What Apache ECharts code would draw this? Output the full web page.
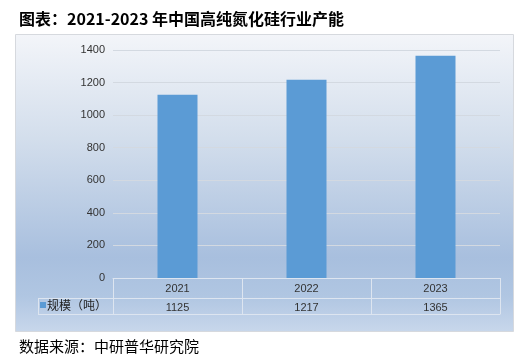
<!DOCTYPE html>
<html><head><meta charset="utf-8">
<script src="https://cdn.jsdelivr.net/npm/echarts@6/dist/echarts.min.js"></script>
<style>html,body{margin:0;padding:0;background:#fff}#c{width:527px;height:363px}</style>
</head><body><div id="c"></div>
<script>
const categories = ['2021', '2022', '2023'];
const capacity = [1125, 1217, 1365];
const yTicks = [0, 200, 400, 600, 800, 1000, 1200, 1400];
const seriesName = '规模（吨）';
const titleText = '图表：2021-2023 年中国高纯氮化硅行业产能';
const sourceText = '数据来源：中研普华研究院';

const chart = echarts.init(document.getElementById('c'), null, {renderer: 'canvas'});
const lineColor = '#dde5f0';
const labelFont = 'Liberation Sans, Arial, sans-serif';
const cjk = '"Noto Sans CJK SC", sans-serif';
chart.setOption({
  animation: false,
  backgroundColor: '#fff',
  title: [
    {text: titleText, left: 14, top: 6, textStyle: {fontSize: 16, fontWeight: 'bold', color: '#000', fontFamily: cjk}},
    {text: sourceText, left: 14, top: 334, textStyle: {fontSize: 15, fontWeight: 'normal', color: '#000', fontFamily: cjk}}
  ],
  graphic: [
    {type: 'rect', z: -100, shape: {x: 15.5, y: 34.5, width: 498, height: 297},
     style: {stroke: '#d6d9de', lineWidth: 1, fill: new echarts.graphic.LinearGradient(0, 0, 0, 1, [
       {offset: 0, color: '#f3f5f9'}, {offset: 0.35, color: '#d3deec'}, {offset: 0.75, color: '#a8bfde'},
       {offset: 0.88, color: '#b0c6e2'}, {offset: 1, color: '#c8d7eb'}])}},
    {type: 'line', z: 5, shape: {x1: 38, y1: 298.5, x2: 113, y2: 298.5}, style: {stroke: lineColor, lineWidth: 1}},
    {type: 'line', z: 5, shape: {x1: 38, y1: 314.5, x2: 113, y2: 314.5}, style: {stroke: lineColor, lineWidth: 1}},
    {type: 'line', z: 5, shape: {x1: 38.5, y1: 298, x2: 38.5, y2: 315}, style: {stroke: lineColor, lineWidth: 1}}
  ],
  legend: {
    data: [seriesName], left: 40, top: 299, padding: 0, itemWidth: 6, itemHeight: 6, icon: 'rect',
    textStyle: {fontSize: 12, color: '#222', fontFamily: cjk, padding: [0, 0, 0, -4]}
  },
  grid: {left: 113, right: 27, top: 50, bottom: 85},
  xAxis: [
    {type: 'category', data: categories, position: 'bottom',
     axisLine: {show: true, lineStyle: {color: lineColor}},
     axisTick: {show: true, interval: 0, length: 36, lineStyle: {color: lineColor}},
     axisLabel: {margin: 5, fontSize: 11, color: '#333', fontFamily: labelFont}},
    {type: 'category', data: categories, position: 'bottom', offset: 20,
     axisLine: {show: true, lineStyle: {color: lineColor}}, axisTick: {show: false},
     axisLabel: {margin: 4, fontSize: 11, color: '#333', fontFamily: labelFont,
       formatter: (v, i) => String(capacity[i])}},
    {type: 'category', data: categories, position: 'bottom', offset: 36,
     axisLine: {show: true, lineStyle: {color: lineColor}}, axisTick: {show: false}, axisLabel: {show: false}}
  ],
  yAxis: {
    type: 'value', min: yTicks[0], max: yTicks[yTicks.length - 1], interval: yTicks[1] - yTicks[0],
    axisLine: {show: false}, axisTick: {show: false},
    axisLabel: {margin: 8, fontSize: 11, color: '#333', fontFamily: labelFont, formatter: v => String(v)},
    splitLine: {lineStyle: {color: '#d3d9e1'}}
  },
  series: [{
    name: seriesName, type: 'bar', data: capacity, barWidth: '31%', xAxisIndex: 0,
    itemStyle: {color: '#5b9bd5'}
  }]
});
</script></body></html>
